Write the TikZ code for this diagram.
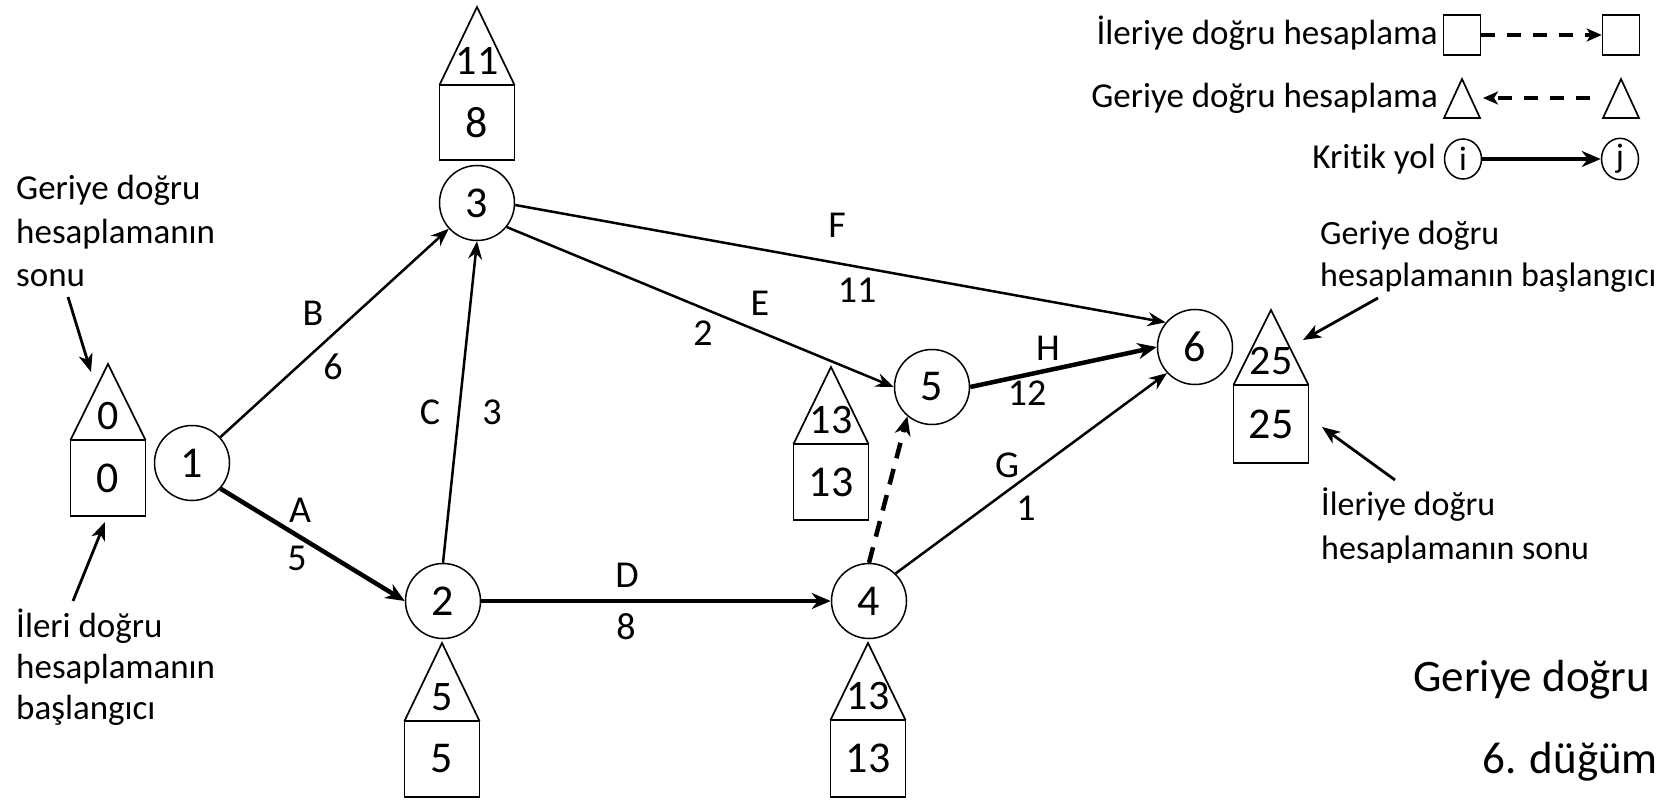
\documentclass[tikz,border=0pt]{standalone}
\usepackage{fontspec}
\setmainfont{Carlito}[Ligatures=NoCommon]
\usetikzlibrary{arrows.meta,shapes.geometric}
\newcommand\fs[1]{\fontsize{#1}{#1}\selectfont}

% event-time "house": triangle (late time) on top of a square (early time)
% #1 name, #2 x centre, #3 apex y, #4 base y, #5 bottom y, #6 late, #7 early
\newcommand\evhouse[7]{%
  \draw[hbox] ({#2-37.5},#4) -- (#2,#3) -- ({#2+37.5},#4);
  \draw[hbox] ({#2-37.5},#4) rectangle ({#2+37.5},#5);
  \node[tnum] (#1-late) at (#2,{#4-24}) {#6};
  \node[hnum] (#1-early) at (#2,{(#4+#5)/2}) {#7};
}
% one line of annotation text, placed by its baseline
\newcommand\noteline[5]{\node[note,anchor=base west,font=\fs{#4}] (#1) at (#2,#3) {#5};}

\begin{document}
\begin{tikzpicture}[x=1pt,y=-1pt,
  event/.style={circle,draw,line width=1.5pt,minimum size=75pt,inner sep=0pt,font=\fs{44}},
  act/.style={line width=2.5pt,-{Stealth[length=18pt,width=14pt,inset=6pt]}},
  crit/.style={line width=4.5pt,-{Stealth[length=19pt,width=16pt,inset=6pt]}},
  dummy/.style={crit,dash pattern=on 16pt off 11pt},
  elabel/.style={inner sep=0pt,font=\fs{38}},
  hnum/.style={inner sep=0pt,font=\fs{44}},
  tnum/.style={inner sep=0pt,font=\fs{42}},
  hbox/.style={line width=1.7pt},
  note/.style={inner sep=0pt},
  pointer/.style={line width=2.8pt,-{Stealth[length=18pt,width=14pt,inset=5pt]}},
  legtext/.style={inner sep=0pt,font=\fs{35},anchor=base east},
  legbox/.style={draw,line width=1.6pt,minimum width=37pt,minimum height=40pt,inner sep=0pt},
  legdash/.style={line width=3.2pt,dash pattern=on 14pt off 12pt,-{Stealth[length=15pt,width=13pt,inset=4pt]}},
]
\useasboundingbox (0,0) rectangle (1659,802);

% ---------------- network events
\node[event] (n1) at (192,463) {1};
\node[event] (n2) at (443,601) {2};
\node[event] (n3) at (477,203) {3};
\node[event] (n4) at (869,601) {4};
\node[event] (n5) at (932,387) {5};
\node[event] (n6) at (1195,347) {6};

% ---------------- activities
\draw[act]   (n1) -- (n3);
\draw[crit]  (n1.-42) -- (n2.west);
\draw[act]   (n2.north) -- (n3.south);
\draw[crit]  (n2) -- (n4);
\draw[act]   (n3.-3) -- (n6.140);
\draw[act]   (n3.-39) -- (n5.west);
\draw[dummy] (n4.north) -- (n5.-130);
\draw[act]   (n4.46) -- (n6.-137);
\draw[crit]  (n5.east) -- (n6.west);

% ---------------- activity names and durations
\node[elabel] (lB)  at (313,313) {B};
\node[elabel] (dB)  at (333,367) {6};
\node[elabel] (lA)  at (300,510) {A};
\node[elabel] (dA)  at (297,558) {5};
\node[elabel] (lC)  at (430,412) {C};
\node[elabel] (dC)  at (492,412) {3};
\node[elabel] (lD)  at (627,575) {D};
\node[elabel] (dD)  at (626,627) {8};
\node[elabel] (lE)  at (760,303) {E};
\node[elabel] (dE)  at (703,333) {2};
\node[elabel] (lF)  at (837,225) {F};
\node[elabel] (dF)  at (857,290) {11};
\node[elabel] (lH)  at (1048,348) {H};
\node[elabel] (dH)  at (1027,393) {12};
\node[elabel] (lG)  at (1007,465) {G};
\node[elabel] (dG)  at (1026,508) {1};

% ---------------- event times
\evhouse{t1}{108}{364}{440}{516}{0}{0}
\evhouse{t3}{477}{7}{85}{160}{11}{8}
\evhouse{t2}{442}{643}{721}{797}{5}{5}
\evhouse{t4}{868}{643}{720}{797}{13}{13}
\evhouse{t5}{831}{367}{444}{520}{13}{13}
\evhouse{t6}{1271}{310}{385}{463}{25}{25}

% ---------------- annotations, left
\noteline{na1}{16}{200}{35}{Geriye doğru}
\noteline{na2}{16}{244}{35}{hesaplamanın}
\noteline{na3}{16}{287}{35}{sonu}
\coordinate (pa1) at (68,297);
\coordinate (pa1t) at (91,372);
\draw[pointer] (pa1) -- (pa1t);

\noteline{nb1}{16}{637}{35}{İleri doğru}
\noteline{nb2}{16}{678}{35}{hesaplamanın}
\noteline{nb3}{16}{719}{35}{başlangıcı}
\coordinate (pb1) at (73,601);
\coordinate (pb1t) at (105,522);
\draw[pointer] (pb1) -- (pb1t);

% ---------------- annotations, right
\noteline{nc1}{1320}{245}{34}{Geriye doğru}
\noteline{nc2}{1320}{287}{34}{hesaplamanın başlangıcı}
\coordinate (pc1) at (1378,298);
\coordinate (pc1t) at (1303,340);
\draw[pointer] (pc1) -- (pc1t);

\noteline{nd1}{1321}{515}{34}{İleriye doğru}
\noteline{nd2}{1321}{559}{34}{hesaplamanın sonu}
\coordinate (pd1) at (1395,480);
\coordinate (pd1t) at (1322,427);
\draw[pointer] (pd1) -- (pd1t);
% lower edge of this text block is masked off
\fill[white] (1300,563) rectangle (1659,600);

% ---------------- bottom right caption
\noteline{ne1}{1413}{691}{45}{Geriye doğru}
\noteline{ne2}{1482}{773}{45}{6. düğüm}

% ---------------- legend
\node[legtext] (lg1) at (1438,45) {İleriye doğru hesaplama};
\node[legtext] (lg2) at (1438,108) {Geriye doğru hesaplama};
\node[legtext] (lg3) at (1436,169) {Kritik yol};

\node[legbox] (lgb1) at (1462,35) {};
\node[legbox] (lgb2) at (1621,35) {};
\draw[legdash] (lgb1.east) -- (lgb2.west);

\draw[hbox] (1444,118) -- (1462,79) -- (1480,118) -- cycle;
\draw[hbox] (1603,118) -- (1621,79) -- (1639,118) -- cycle;
\coordinate (lgt1) at (1483,98);
\coordinate (lgt2) at (1590,98);
\draw[legdash] (lgt2) -- (lgt1);

\node[ellipse,draw,line width=1.5pt,minimum width=37pt,minimum height=40pt,inner sep=0pt,font=\fs{34}] (lgi) at (1463,159) {i};
\node[ellipse,draw,line width=1.5pt,minimum width=37pt,minimum height=40pt,inner sep=0pt,font=\fs{34}] (lgj) at (1620,159) {j};
\draw[crit] (lgi) -- (lgj);
\end{tikzpicture}
\end{document}
